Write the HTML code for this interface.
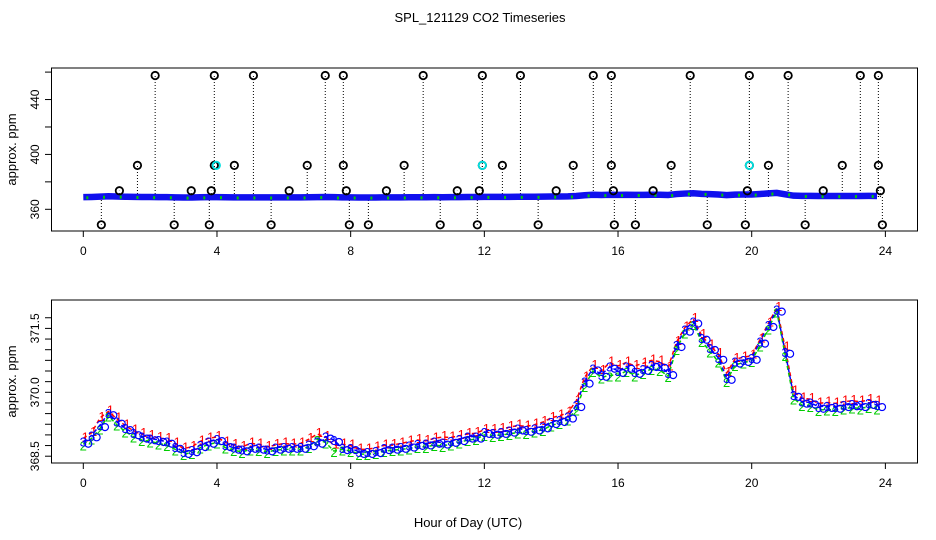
<!DOCTYPE html>
<html><head><meta charset="utf-8">
<style>
body{margin:0;background:#fff;}
svg{display:block;font-family:"Liberation Sans",sans-serif;}
</style></head>
<body>
<svg id="c" width="936" height="540" viewBox="0 0 936 540"></svg>
<script>
const hours=[];for(let i=0;i<96;i++)hours.push(i*0.25);
const seriesBlue=[368.84,368.99,369.23,369.51,369.31,369.16,369.04,368.96,368.92,368.88,368.84,368.72,368.60,368.64,368.76,368.84,
368.90,368.76,368.70,368.66,368.72,368.70,368.66,368.70,368.72,368.72,368.72,368.78,368.84,368.96,368.88,368.69,
368.69,368.60,368.60,368.62,368.69,368.70,368.72,368.75,368.79,368.80,368.84,368.82,368.86,368.90,368.96,368.96,
369.07,369.05,369.07,369.10,369.15,369.12,369.15,369.20,369.30,369.35,369.43,369.70,370.25,370.56,370.41,370.60,
370.50,370.60,370.48,370.55,370.64,370.62,370.45,371.11,371.47,371.66,371.28,371.04,370.81,370.34,370.72,370.76,
370.81,371.19,371.58,371.94,370.95,369.94,369.78,369.76,369.66,369.68,369.66,369.70,369.72,369.70,369.75,369.70];
const seriesRed=[368.92,369.05,369.40,369.55,369.38,369.22,369.10,369.02,368.98,368.93,368.90,368.80,368.68,368.72,368.85,368.92,
368.95,368.82,368.76,368.72,368.80,368.78,368.72,368.76,368.80,368.78,368.80,368.90,369.02,368.95,368.75,368.78,
368.75,368.66,368.66,368.70,368.75,368.76,368.80,368.84,368.88,368.86,368.92,368.95,368.94,368.98,369.02,369.04,
369.12,369.12,369.14,369.18,369.22,369.20,369.24,369.30,369.40,369.45,369.52,369.80,370.35,370.62,370.50,370.70,
370.62,370.70,370.62,370.68,370.75,370.72,370.58,371.18,371.52,371.72,371.34,371.10,370.90,370.45,370.78,370.82,
370.86,371.24,371.62,371.98,371.05,370.02,369.86,369.84,369.74,369.76,369.74,369.78,369.80,369.78,369.82,369.78];
const seriesGreen=[368.78,368.92,369.15,369.45,369.24,369.08,368.96,368.88,368.85,368.80,368.76,368.66,368.55,368.58,368.70,368.78,
368.82,368.70,368.64,368.60,368.66,368.64,368.60,368.64,368.66,368.66,368.66,368.72,368.90,368.82,368.62,368.66,
368.62,368.55,368.55,368.57,368.62,368.64,368.66,368.68,368.72,368.72,368.76,368.74,368.78,368.82,368.88,368.90,
369.00,368.98,369.00,369.02,369.06,369.05,369.08,369.12,369.22,369.28,369.36,369.60,370.15,370.50,370.35,370.40,
370.40,370.50,370.40,370.45,370.55,370.52,370.38,371.02,371.40,371.60,371.20,370.96,370.72,370.26,370.64,370.70,
370.74,371.10,371.50,371.90,370.88,369.86,369.70,369.68,369.58,369.60,369.58,369.62,369.64,369.62,369.66,369.62];
const spikeHours=[2.15,3.92,5.09,7.24,7.78,10.17,11.94,13.08,15.26,15.80,18.16,19.93,21.09,23.25,23.79,
1.62,3.92,4.52,6.70,7.78,9.60,11.94,12.54,14.66,15.80,17.59,19.93,20.50,22.71,23.79,
1.08,3.23,3.83,6.16,7.87,9.07,11.19,11.85,14.15,15.86,17.05,19.87,22.14,23.85,
0.54,2.72,3.77,5.62,7.96,8.53,10.68,11.79,13.61,15.89,16.52,18.67,19.81,21.60,23.91];
const spikeValues=[457.5,457.5,457.5,457.5,457.5,457.5,457.5,457.5,457.5,457.5,457.5,457.5,457.5,457.5,457.5,
392,392,392,392,392,392,392,392,392,392,392,392,392,392,392,
373.5,373.5,373.5,373.5,373.5,373.5,373.5,373.5,373.5,373.5,373.5,373.5,373.5,373.5,
348.7,348.7,348.7,348.7,348.7,348.7,348.7,348.7,348.7,348.7,348.7,348.7,348.7,348.7,348.7];
const cyanHours=[3.98,11.94,19.93];
const cyanValues=[392,392,392];
const xTicks=[0,4,8,12,16,20,24];
const topYTicks=[360,380,400,420,440,460];
const topYLabels=[360,400,440];
const botYTicks=[368.5,368.75,369,369.25,369.5,369.75,370,370.25,370.5,370.75,371,371.25,371.5,371.75];
const botYLabels=["368.5","370.0","371.5"];

const NS="http://www.w3.org/2000/svg";
const svg=document.getElementById('c');
function mk(tag,attrs,parent){const e=document.createElementNS(NS,tag);for(const k in attrs)e.setAttribute(k,attrs[k]);(parent||svg).appendChild(e);return e;}
const X=h=>83.3+h*33.42;
const Yt=v=>209.3-(v-360)*1.372;
const Yb=v=>392.3-(v-370)*42.6;

let t=mk('text',{x:480,y:22,'font-size':13,'text-anchor':'middle'});t.textContent='SPL_121129  CO2 Timeseries';


t=mk('text',{x:468,y:527,'font-size':13,'text-anchor':'middle'});t.textContent='Hour of Day (UTC)';



function panel(name,top,bot,Y,yTicks,yLabelVals,yLabelTexts){
  const g=mk('g',{});
  
  
  const box=mk('rect',{x:51.5,y:top,width:866,height:bot-top,fill:'none',stroke:'#000','stroke-width':1},g);
  
  
  const xa=mk('g',{},g);
  
  
  xTicks.forEach(h=>{
    mk('line',{x1:X(h),x2:X(h),y1:bot,y2:bot+6,stroke:'#000'},xa);
    const l=mk('text',{x:X(h),y:bot+24,'font-size':12,'text-anchor':'middle'},xa);l.textContent=h;
    
    
  });
  const ya=mk('g',{},g);
  
  
  yTicks.forEach(v=>mk('line',{x1:45,x2:51.5,y1:Y(v),y2:Y(v),stroke:'#000'},ya));
  yLabelVals.forEach((v,i)=>{
    const l=mk('text',{x:0,y:0,'font-size':12,'text-anchor':'middle',transform:`translate(39,${Y(v)}) rotate(-90)`},ya);
    l.textContent=yLabelTexts[i];
    
    
  });
  const yt=mk('text',{x:0,y:0,'font-size':13,'text-anchor':'middle',transform:`translate(16,${(top+bot)/2}) rotate(-90)`},g);
  yt.textContent='approx. ppm';
  
  
  return g;
}

const gt=panel('top-panel',68,231,Yt,topYTicks,topYLabels,topYLabels.map(String));
spikeHours.forEach((h,i)=>{
  const v=spikeValues[i];
  const ln=mk('line',{x1:X(h),x2:X(h),y1:Yt(369),y2:Yt(v),stroke:'#000','stroke-dasharray':'1,2'},gt);
  
  
});
let bl=mk('polyline',{points:hours.map((h,i)=>X(h)+','+Yt(seriesBlue[i])).join(' '),fill:'none',stroke:'#1010ee','stroke-width':6.5},gt);


hours.forEach((h,i)=>{
  if(i%2) return;
  const c=mk('rect',{x:X(h)+3,y:Yt(seriesGreen[i])-1,width:2,height:3,fill:'#0c0'},gt);
  
  
});
spikeHours.forEach((h,i)=>{
  const c=mk('circle',{cx:X(h),cy:Yt(spikeValues[i]),r:3.7,fill:'none',stroke:'#000','stroke-width':1.8},gt);
  
  
});
cyanHours.forEach((h,i)=>{
  const c=mk('circle',{cx:X(h),cy:Yt(cyanValues[i]),r:3.7,fill:'none',stroke:'#00e0e0','stroke-width':1.8},gt);
  
  
});

const gb=panel('bottom-panel',300,463,Yb,botYTicks,[368.5,370,371.5],botYLabels);
function seriesDraw(vals,color,ch,dx,dy,name){
  const pl=mk('polyline',{points:hours.map((h,i)=>X(h)+','+Yb(vals[i])).join(' '),fill:'none',stroke:color,'stroke-width':1.5,'stroke-dasharray':'4,3'},gb);
  
  
  hours.forEach((h,i)=>{
    const tx=mk('text',{x:X(h)+dx,y:Yb(vals[i])+dy,'font-size':13,'text-anchor':'middle',fill:color},gb);
    tx.textContent=ch;
    
    
  });
}
seriesDraw(seriesRed,'#ff0000','1',2,3,'series-1');
seriesDraw(seriesGreen,'#00cc00','2',0,6,'series-2');
seriesDraw(seriesBlue,'#0000ff','3',0,5,'series-3');
hours.forEach((h,i)=>{
  const c=mk('circle',{cx:X(h)+5,cy:Yb(seriesBlue[i])+2,r:3.5,fill:'none',stroke:'#0000ff','stroke-width':1.2},gb);
  
  
});
</script>
</body></html>
